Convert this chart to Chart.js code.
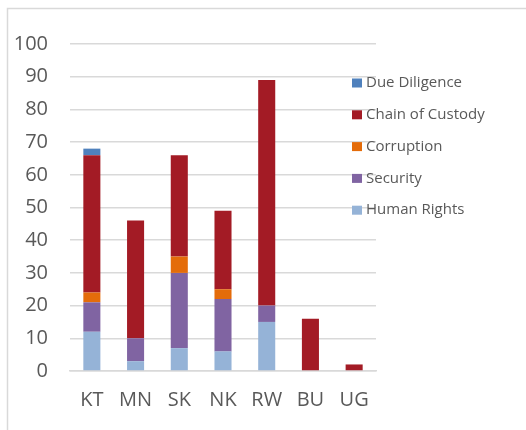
<!DOCTYPE html>
<html>
<head>
<meta charset="utf-8">
<script src="https://cdn.jsdelivr.net/npm/chart.js@4/dist/chart.umd.min.js"></script>
<style>
  html, body { margin: 0; padding: 0; background: #ffffff; }
  #wrap { position: relative; width: 526px; height: 430px; }
</style>
</head>
<body>
<div id="wrap"><canvas id="c" width="526" height="430"></canvas></div>
<script>
const categories = ["KT", "MN", "SK", "NK", "RW", "BU", "UG"];
const humanRights    = [12, 3, 7, 6, 15, 0, 0];
const security       = [9, 7, 23, 16, 5, 0, 0];
const corruption     = [3, 0, 5, 3, 0, 0, 0];
const chainOfCustody = [42, 36, 31, 24, 69, 16, 2];
const dueDiligence   = [2, 0, 0, 0, 0, 0, 0];
const seriesNames = ["Human Rights", "Security", "Corruption", "Chain of Custody", "Due Diligence"];
const yTicks = [0, 10, 20, 30, 40, 50, 60, 70, 80, 90, 100];

const colors = ["#95b3d7", "#8064a2", "#e46c0a", "#a31b25", "#4f81bd"];
const seriesData = [humanRights, security, corruption, chainOfCustody, dueDiligence];

const datasets = seriesNames.map((n, i) => ({
  label: n,
  data: seriesData[i],
  backgroundColor: colors[i],
  borderWidth: 0,
  categoryPercentage: 1.0,
  barPercentage: 0.39
}));

const FONT = "'Open Sans', 'DejaVu Sans', sans-serif";

const decor = {
  id: 'decor',
  beforeDraw(chart) {
    const ctx = chart.ctx;
    ctx.save();
    ctx.strokeStyle = '#d9d9d9';
    ctx.lineWidth = 1.5;
    ctx.beginPath();
    ctx.moveTo(7.5, 430);
    ctx.lineTo(7.5, 8.5);
    ctx.lineTo(526, 8.5);
    ctx.stroke();
    ctx.restore();
  },
  afterDraw(chart) {
    const ctx = chart.ctx;
    ctx.save();
    ctx.font = "15px " + FONT;
    ctx.textBaseline = 'middle';
    ctx.textAlign = 'left';
    const ds = chart.data.datasets;
    const n = ds.length;
    for (let k = 0; k < n; k++) {
      const d = ds[n - 1 - k];
      const yc = 83 + k * 31.8;
      ctx.fillStyle = d.backgroundColor;
      ctx.fillRect(352, yc - 4.5, 10, 9);
      ctx.fillStyle = '#595959';
      ctx.fillText(d.label, 366, yc);
    }
    ctx.restore();
  }
};

new Chart(document.getElementById('c'), {
  type: 'bar',
  data: { labels: categories, datasets },
  options: {
    responsive: false,
    animation: false,
    layout: { padding: { top: 44, right: 150, left: 0, bottom: 0 } },
    plugins: { legend: { display: false }, tooltip: { enabled: false }, title: { display: false } },
    scales: {
      x: {
        stacked: true,
        grid: { display: false, drawTicks: false },
        border: { display: true, color: '#d9d9d9', width: 1.5 },
        ticks: { color: '#595959', font: { family: FONT, size: 20 }, padding: 17, maxRotation: 0 },
        afterFit(s) { s.height = 59; }
      },
      y: {
        stacked: true,
        min: 0, max: 100,
        afterBuildTicks(s) { s.ticks = yTicks.map(v => ({ value: v })); },
        grid: { color: '#d9d9d9', lineWidth: 1.5, drawTicks: false },
        border: { display: false },
        ticks: { color: '#595959', font: { family: FONT, size: 20 }, padding: 22 },
        afterFit(s) { s.width = 70; }
      }
    }
  },
  plugins: [decor]
});
</script>
</body>
</html>
